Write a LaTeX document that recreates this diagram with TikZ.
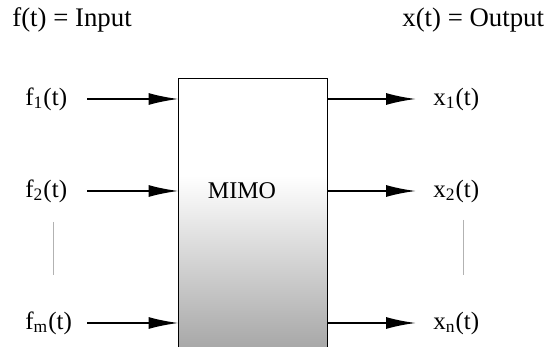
\documentclass[tikz,border=0pt]{standalone}
\usepackage{fontspec}
\setmainfont{Liberation Serif}
\usepackage{tikz}
\usetikzlibrary{arrows.meta,positioning,calc}

% white at the top, grey towards the open bottom of the block
\pgfdeclareverticalshading{mimofade}{100bp}{color(0bp)=(black!34); color(25bp)=(black!34); color(57bp)=(white); color(100bp)=(white)}

\begin{document}
\begin{tikzpicture}[
    x=0.5pt, y=-0.5pt,
    mimobox/.style={rectangle, draw=none, minimum width=74pt, minimum height=134pt, shading=mimofade, inner sep=0pt},
    signal/.style={font=\fontsize{12.5}{14}\selectfont, inner sep=0pt, anchor=west},
    heading/.style={font=\fontsize{13.4}{15}\selectfont, inner sep=0pt, anchor=west},
    sigarrow/.style={-{Latex[length=15pt,width=6pt]}, line width=1pt},
    vdots/.style={gray!60, line width=0.5pt}
]
    \useasboundingbox (0,0) rectangle (547,347);

    \node[heading] (intitle) at (12,20) {f(t) = Input};
    \node[heading] (outtitle) at (402,20) {x(t) = Output};

    \node[mimobox] (mimo) at (253,213) {};
    \draw[line width=0.6pt] (mimo.south west) -- (mimo.north west) -- (mimo.north east) -- (mimo.south east);
    \node[font=\fontsize{12}{14}\selectfont] (mimolabel) at (242,191) {MIMO};

    \node[signal] (f1) at (25,99) {f\textsubscript{1}(t)};
    \node[signal] (f2) at (25,191) {f\textsubscript{2}(t)};
    \node[signal] (fm) at (25,323) {f\textsubscript{m}(t)};

    \node[signal] (x1) at (433,99) {x\textsubscript{1}(t)};
    \node[signal] (x2) at (433,191) {x\textsubscript{2}(t)};
    \node[signal] (xn) at (433,323) {x\textsubscript{n}(t)};

    \draw[sigarrow] (87,99) -- (f1.east -| mimo.west);
    \draw[sigarrow] (87,191) -- (f2.east -| mimo.west);
    \draw[sigarrow] (87,323) -- (fm.east -| mimo.west);

    \draw[sigarrow, shorten >=17pt*0.5] (x1.west -| mimo.east) -- (x1.west);
    \draw[sigarrow, shorten >=17pt*0.5] (x2.west -| mimo.east) -- (x2.west);
    \draw[sigarrow, shorten >=17pt*0.5] (xn.west -| mimo.east) -- (xn.west);

    \coordinate (indotstop) at (53,222);
    \coordinate (indotsbot) at (53,275);
    \coordinate (outdotstop) at (463,220);
    \coordinate (outdotsbot) at (463,275);
    \draw[vdots] (indotstop) -- (indotsbot);
    \draw[vdots] (outdotstop) -- (outdotsbot);
\end{tikzpicture}
\end{document}
